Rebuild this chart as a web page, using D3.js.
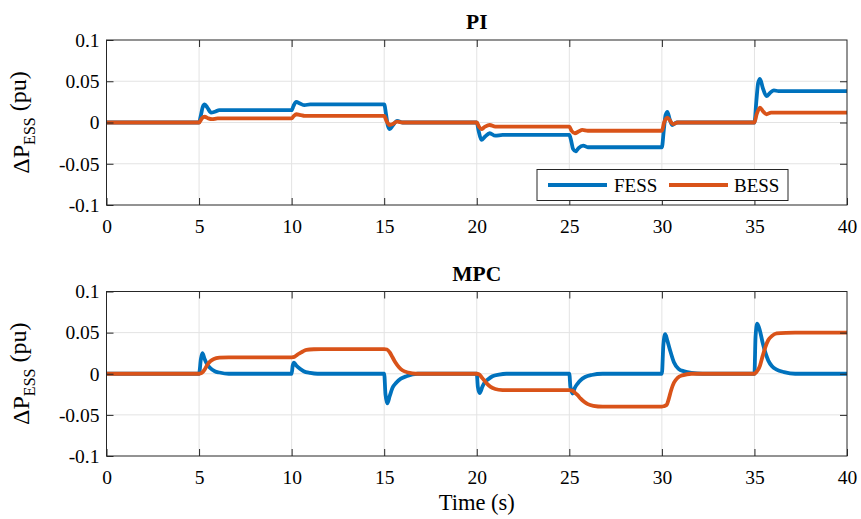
<!DOCTYPE html>
<html>
<head>
<meta charset="utf-8">
<script src="https://cdn.jsdelivr.net/npm/d3@7"></script>
<style>
  html, body { margin: 0; padding: 0; background: #ffffff; }
  svg { display: block; font-family: "Liberation Serif", "Times New Roman", Times, serif; }
  text { font-family: "Liberation Serif", "Times New Roman", Times, serif; fill: #000; }
</style>
</head>
<body>
<svg id="chart" width="861" height="519"></svg>
<script>
// ---- data: power deviation of the storage units [time (s), ΔP (pu)] ----
const xTicks = [0, 5, 10, 15, 20, 25, 30, 35, 40];
const yTicks = [-0.1, -0.05, 0, 0.05, 0.1];
const yTickLabels = ["-0.1", "-0.05", "0", "0.05", "0.1"];
const seriesNames = ["FESS", "BESS"];
const seriesColors = ["#0072BD", "#D95319"];

const piFess = [
  [0,0],[5.0,0],[5.1,0.009],[5.2,0.019],[5.3,0.022],[5.45,0.018],[5.65,0.012],[5.85,0.013],[6.1,0.015],[6.5,0.015],
  [10.0,0.015],[10.1,0.02],[10.25,0.025],[10.45,0.023],[10.7,0.021],[11.0,0.022],[11.5,0.022],
  [15.0,0.022],[15.1,0.01],[15.2,-0.004],[15.3,-0.008],[15.45,-0.004],[15.7,0.002],[16.0,0],[16.4,0],
  [20.0,0],[20.1,-0.01],[20.25,-0.021],[20.45,-0.017],[20.7,-0.013],[21.0,-0.016],[21.4,-0.015],
  [25.0,-0.015],[25.1,-0.022],[25.2,-0.032],[25.35,-0.035],[25.5,-0.031],[25.75,-0.028],[26.0,-0.030],[26.4,-0.030],
  [30.0,-0.030],[30.1,-0.01],[30.2,0.009],[30.3,0.013],[30.42,0.004],[30.55,-0.003],[30.8,0],[31.2,0],
  [35.0,0],[35.1,0.025],[35.2,0.048],[35.3,0.053],[35.45,0.042],[35.65,0.032],[35.85,0.036],[36.05,0.039],[36.3,0.038],[40,0.038]
];
const piBess = [
  [0,0],[5.0,0],[5.15,0.005],[5.3,0.007],[5.5,0.005],[5.7,0.004],[6.0,0.005],
  [10.0,0.005],[10.12,0.008],[10.25,0.010],[10.5,0.009],[10.7,0.008],[11.0,0.008],
  [15.0,0.008],[15.12,0.002],[15.3,-0.003],[15.45,-0.002],[15.7,0.001],[16.0,0],
  [20.0,0],[20.12,-0.005],[20.25,-0.008],[20.45,-0.005],[20.7,-0.003],[21.0,-0.005],
  [25.0,-0.005],[25.12,-0.010],[25.3,-0.013],[25.5,-0.011],[25.7,-0.009],[26.0,-0.010],
  [30.0,-0.010],[30.12,0],[30.3,0.006],[30.45,0.002],[30.6,-0.002],[30.85,0],
  [35.0,0],[35.12,0.010],[35.3,0.018],[35.45,0.014],[35.65,0.010],[35.9,0.012],[40,0.012]
];
const mpcFess = [
  [0,0],[5.0,0],[5.1,0.018],[5.18,0.025],[5.3,0.018],[5.45,0.011],[5.6,0.007],[5.85,0.003],[6.1,0.0015],[6.6,0],
  [10.0,0],[10.06,0.010],[10.13,0.0135],[10.25,0.010],[10.45,0.006],[10.65,0.003],[11.0,0.001],[11.4,0],
  [15.0,0],[15.07,-0.025],[15.17,-0.036],[15.3,-0.027],[15.45,-0.017],[15.65,-0.011],[15.9,-0.006],[16.2,-0.003],[16.8,0],
  [20.0,0],[20.06,-0.016],[20.16,-0.0235],[20.3,-0.016],[20.45,-0.010],[20.6,-0.007],[20.85,-0.003],[21.2,-0.001],[21.6,0],
  [25.0,0],[25.06,-0.016],[25.18,-0.024],[25.3,-0.017],[25.45,-0.012],[25.6,-0.008],[25.85,-0.004],[26.2,-0.0015],[26.8,0],
  [30.0,0],[30.08,0.035],[30.18,0.048],[30.3,0.040],[30.45,0.028],[30.65,0.014],[30.9,0.006],[31.2,0.003],[31.6,0.001],[32.2,0],
  [35.0,0],[35.06,0.045],[35.15,0.061],[35.3,0.052],[35.45,0.037],[35.6,0.025],[35.75,0.016],[35.95,0.009],[36.2,0.005],[36.6,0.002],[37.2,0],[40,0]
];
const mpcBess = [
  [0,0],[5.0,0],[5.15,0.001],[5.3,0.005],[5.45,0.011],[5.6,0.015],[5.8,0.018],[6.1,0.0195],[6.6,0.02],
  [10.0,0.02],[10.15,0.0205],[10.3,0.023],[10.45,0.025],[10.6,0.027],[10.8,0.029],[11.2,0.0298],[11.6,0.03],
  [15.0,0.03],[15.15,0.0295],[15.3,0.026],[15.45,0.02],[15.6,0.014],[15.8,0.008],[16.0,0.004],[16.3,0.0015],[16.7,0],
  [20.0,0],[20.12,-0.0005],[20.25,-0.004],[20.4,-0.008],[20.55,-0.012],[20.75,-0.016],[21.0,-0.0185],[21.4,-0.0198],[21.8,-0.02],
  [25.0,-0.02],[25.15,-0.0205],[25.3,-0.023],[25.45,-0.026],[25.6,-0.030],[25.8,-0.034],[26.0,-0.037],[26.3,-0.039],[26.8,-0.040],
  [30.0,-0.040],[30.1,-0.0395],[30.25,-0.038],[30.38,-0.030],[30.5,-0.020],[30.65,-0.011],[30.85,-0.005],[31.1,-0.002],[31.6,0],
  [35.0,0],[35.1,0.002],[35.2,0.005],[35.3,0.010],[35.45,0.022],[35.6,0.033],[35.75,0.041],[35.95,0.046],[36.2,0.049],[36.7,0.0498],[37.2,0.05],[40,0.05]
];

// ---- layout ----
const svg = d3.select("#chart");
const serif = "'Liberation Serif', 'Times New Roman', Times, serif";
const left = 106.5, right = 847;
const panels = [
  { title: "PI",  top: 40,    bottom: 205, series: [piFess, piBess],   legend: true,  xlabel: false },
  { title: "MPC", top: 291.5, bottom: 456, series: [mpcFess, mpcBess], legend: false, xlabel: true }
];
const axisColor = "#262626";
const gridColor = "#e3e3e3";
const tickLen = 7;

const x = d3.scaleLinear().domain([0, 40]).range([left, right]);

panels.forEach(p => {
  const y = d3.scaleLinear().domain([-0.1, 0.1]).range([p.bottom, p.top]);
  const g = svg.append("g");

  // grid
  g.append("g").selectAll("line").data(xTicks.slice(1, -1)).join("line")
    .attr("x1", d => x(d)).attr("x2", d => x(d))
    .attr("y1", p.top).attr("y2", p.bottom)
    .attr("stroke", gridColor).attr("stroke-width", 1);
  g.append("g").selectAll("line").data(yTicks.slice(1, -1)).join("line")
    .attr("x1", left).attr("x2", right)
    .attr("y1", d => y(d)).attr("y2", d => y(d))
    .attr("stroke", gridColor).attr("stroke-width", 1);

  // series
  const line = d3.line().x(d => x(d[0])).y(d => y(d[1])).curve(d3.curveMonotoneX);
  p.series.forEach((s, i) => {
    g.append("path").datum(s)
      .attr("d", line)
      .attr("fill", "none")
      .attr("stroke", seriesColors[i])
      .attr("stroke-width", 3.8)
      .attr("stroke-linejoin", "round");
  });

  // axes (inward ticks on all four sides)
  const styleAxis = sel => {
    sel.attr("font-family", serif).attr("font-size", 19.5);
    sel.select(".domain").remove();
    sel.selectAll(".tick line").attr("stroke", axisColor);
    sel.selectAll(".tick text").attr("fill", "#000");
  };
  g.append("g").attr("transform", `translate(0,${p.bottom})`)
    .call(d3.axisBottom(x).tickValues(xTicks).tickFormat(d3.format("d")).tickSize(-tickLen).tickPadding(14))
    .call(styleAxis);
  g.append("g").attr("transform", `translate(0,${p.top})`)
    .call(d3.axisTop(x).tickValues(xTicks.slice(1, -1)).tickFormat("").tickSize(-tickLen))
    .call(styleAxis);
  g.append("g").attr("transform", `translate(${left},0)`)
    .call(d3.axisLeft(y).tickValues(yTicks).tickFormat((d, i) => yTickLabels[i]).tickSize(-tickLen).tickPadding(7))
    .call(styleAxis);
  g.append("g").attr("transform", `translate(${right},0)`)
    .call(d3.axisRight(y).tickValues(yTicks.slice(1, -1)).tickFormat("").tickSize(-tickLen))
    .call(styleAxis);

  // box
  g.append("rect")
    .attr("x", left).attr("y", p.top)
    .attr("width", right - left).attr("height", p.bottom - p.top)
    .attr("fill", "none").attr("stroke", axisColor).attr("stroke-width", 1);

  // title
  svg.append("text")
    .attr("x", (left + right) / 2).attr("y", p.top - 11)
    .attr("text-anchor", "middle")
    .style("font-size", "21.5px").style("font-weight", "bold")
    .text(p.title);

  // y label: ΔP_ESS (pu)
  const cy = (p.top + p.bottom) / 2;
  const yl = svg.append("text")
    .attr("transform", `translate(29,${cy}) rotate(-90)`)
    .attr("text-anchor", "middle")
    .style("font-size", "24px");
  yl.append("tspan").text("\u0394P");
  yl.append("tspan").attr("dy", "0.4em").style("font-size", "16px").text("ESS");
  yl.append("tspan").attr("dy", "-0.4em").text("\u00a0(pu)");

  if (p.xlabel) {
    svg.append("text")
      .attr("x", (left + right) / 2).attr("y", 510)
      .attr("text-anchor", "middle")
      .style("font-size", "22.5px")
      .text("Time (s)");
  }

  if (p.legend) {
    const lg = svg.append("g");
    lg.append("rect")
      .attr("x", 537).attr("y", 169.5).attr("width", 251).attr("height", 31)
      .attr("fill", "#fff").attr("stroke", axisColor).attr("stroke-width", 1);
    const items = [{ x0: 548, x1: 607, tx: 614 }, { x0: 669, x1: 728, tx: 734 }];
    items.forEach((it, i) => {
      lg.append("line")
        .attr("x1", it.x0).attr("x2", it.x1).attr("y1", 185).attr("y2", 185)
        .attr("stroke", seriesColors[i]).attr("stroke-width", 3.8);
      lg.append("text")
        .attr("x", it.tx).attr("y", 191.5)
        .style("font-size", "19px")
        .text(seriesNames[i]);
    });
  }
});
</script>
</body>
</html>
